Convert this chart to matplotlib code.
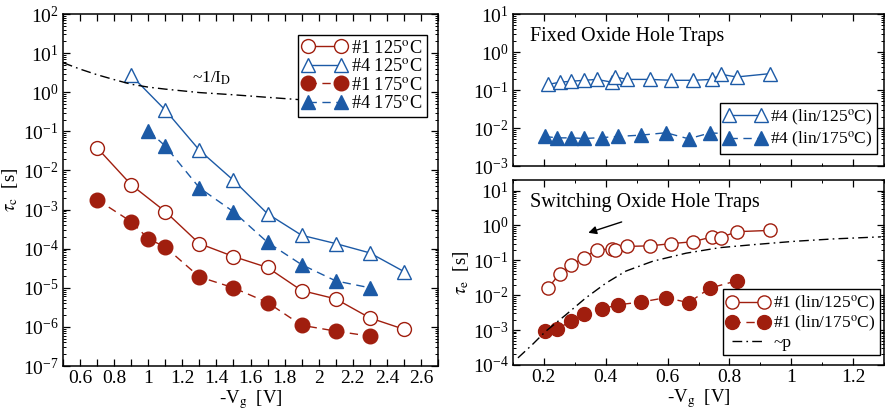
import numpy as np
import matplotlib
matplotlib.use("Agg")
import matplotlib.pyplot as plt
from matplotlib.ticker import MultipleLocator, FuncFormatter, LogLocator

plt.rcParams['font.family'] = ['Liberation Serif', 'DejaVu Serif']
plt.rcParams['mathtext.fontset'] = 'stix'
plt.rcParams['font.size'] = 13

RED = '#a01e0e'
BLUE = '#1c5aa6'

# ---- left panel: capture time vs gate voltage
vg = [0.7, 0.9, 1.1, 1.3, 1.5, 1.7, 1.9, 2.1, 2.3, 2.5]
tau_1_125 = [3.8e-2, 4.3e-3, 8.9e-4, 1.35e-4, 6.3e-5, 3.3e-5, 8.5e-6, 5.2e-6, 1.7e-6, 8.7e-7]

vg_4_125 = [0.9, 1.1, 1.3, 1.5, 1.7, 1.9, 2.1, 2.3, 2.5]
tau_4_125 = [2.7, 0.35, 3.3e-2, 5.6e-3, 7.8e-4, 2.2e-4, 1.35e-4, 7.8e-5, 2.6e-5]

vg_1_175 = [0.7, 0.9, 1.0, 1.1, 1.3, 1.5, 1.7, 1.9, 2.1, 2.3]
tau_1_175 = [1.8e-3, 4.9e-4, 1.8e-4, 1.1e-4, 1.9e-5, 1.0e-5, 4.2e-6, 1.1e-6, 7.8e-7, 5.8e-7]

vg_4_175 = [1.0, 1.1, 1.3, 1.5, 1.7, 1.9, 2.1, 2.3]
tau_4_175 = [0.105, 4.2e-2, 3.6e-3, 8.8e-4, 1.45e-4, 3.9e-5, 1.5e-5, 1.0e-5]

vg_id = [0.5, 0.6, 0.7, 0.8, 0.9, 1.0, 1.1, 1.3, 1.5, 1.7, 1.9]
inv_id = [5.7, 3.9, 2.8, 2.1, 1.6, 1.35, 1.2, 0.98, 0.86, 0.74, 0.64]

# ---- right panels: emission time vs gate voltage
vg_lin = [0.213, 0.251, 0.289, 0.330, 0.371, 0.421, 0.430, 0.470, 0.544, 0.611, 0.681, 0.745, 0.772, 0.823, 0.932]
tau_4_lin125 = [0.14, 0.16, 0.17, 0.18, 0.19, 0.16, 0.22, 0.19, 0.19, 0.18, 0.18, 0.19, 0.26, 0.22, 0.27]
tau_1_lin125 = [0.016, 0.041, 0.073, 0.12, 0.20, 0.21, 0.20, 0.25, 0.26, 0.30, 0.34, 0.47, 0.45, 0.66, 0.72]

vg_lin175 = [0.202, 0.243, 0.289, 0.331, 0.389, 0.440, 0.515, 0.595, 0.668, 0.737, 0.825]
tau_4_lin175 = [6.0e-3, 5.5e-3, 5.5e-3, 5.3e-3, 5.6e-3, 6.0e-3, 6.5e-3, 7.5e-3, 5.2e-3, 7.4e-3, 7.0e-3]
tau_1_lin175 = [9.3e-4, 1.1e-3, 1.8e-3, 2.8e-3, 4.1e-3, 5.3e-3, 6.4e-3, 8.5e-3, 6.1e-3, 0.016, 0.026]

vg_p = [0.116, 0.162, 0.205, 0.270, 0.335, 0.40, 0.465, 0.552, 0.66, 0.768, 0.876, 1.01, 1.136, 1.29]
p_curve = [1.6e-4, 3.8e-4, 9.1e-4, 2.7e-3, 8.3e-3, 0.022, 0.049, 0.094, 0.16, 0.23, 0.28, 0.35, 0.41, 0.47]

DASH = (0, (6, 4))
DASHDOT = (0, (7, 3, 1.2, 3))
deg = r'$^{\rm o}$C'

fig = plt.figure(figsize=(8.86, 4.15), dpi=100)
ax1 = fig.add_axes([63/886, 1-366/415, 375/886, 352/415])
ax2 = fig.add_axes([513/886, 1-166/415, 371/886, 152/415])
ax3 = fig.add_axes([513/886, 1-365/415, 371/886, 185/415])

fmt = FuncFormatter(lambda v, p: '%g' % v)


def style(ax):
    ax.set_yscale('log')
    ax.tick_params(which='both', direction='in', top=True, right=True, labelsize=14, pad=3)
    ax.tick_params(which='major', length=5, width=0.9)
    ax.tick_params(which='minor', length=2.5, width=0.7)
    ax.yaxis.set_major_locator(LogLocator(base=10, numticks=30))
    ax.yaxis.set_minor_locator(LogLocator(base=10, subs=np.arange(2, 10), numticks=30))
    for s in ax.spines.values():
        s.set_linewidth(1.1)


def legend(ax, loc, anchor, fs, spacing):
    leg = ax.legend(loc=loc, bbox_to_anchor=anchor, borderaxespad=0, numpoints=2,
                    handlelength=2.4, handletextpad=0.25, labelspacing=spacing, fancybox=False,
                    framealpha=1, edgecolor='black', fontsize=fs, borderpad=0.25)
    leg.get_frame().set_linewidth(1)


# left
ax = ax1
style(ax)
ax.plot(vg, tau_1_125, '-o', color=RED, mfc='white', mec=RED, ms=10, lw=1, mew=1, label='#1 125' + deg)
ax.plot(vg_4_125, tau_4_125, '-^', color=BLUE, mfc='white', mec=BLUE, ms=10, lw=1, mew=1, label='#4 125' + deg)
ax.plot(vg_1_175, tau_1_175, 'o', ls=DASH, color=RED, ms=10.5, lw=1, label='#1 175' + deg)
ax.plot(vg_4_175, tau_4_175, '^', ls=DASH, color=BLUE, ms=10, lw=1, label='#4 175' + deg)
ax.plot(vg_id, inv_id, color='black', ls=DASHDOT, lw=1)
ax.text(1.255, 2.3, r'~1/I$_{\rm D}$', fontsize=12.5, va='center', ha='left')
ax.set_xlim(0.5, 2.7)
ax.set_ylim(1e-7, 1e2)
ax.xaxis.set_major_locator(MultipleLocator(0.2))
ax.xaxis.set_minor_locator(MultipleLocator(0.1))
ax.xaxis.set_major_formatter(fmt)
ax.tick_params(axis='x', which='minor', length=5, width=0.9)
ax.set_xlabel(r'-V$_{\rm g}$  [V]', fontsize=13.5, labelpad=1)
ax.set_ylabel(r'$\tau_{\rm c}$  [s]', fontsize=13.5, labelpad=2)
legend(ax, 'upper right', (0.971, 0.94), 13.2, 0.08)

# right top: fixed traps
ax = ax2
style(ax)
ax.plot(vg_lin, tau_4_lin125, '-^', color=BLUE, mfc='white', mec=BLUE, ms=9.5, lw=1, mew=1,
        label='#4 (lin/125' + deg + ')')
ax.plot(vg_lin175, tau_4_lin175, '^', ls=DASH, color=BLUE, ms=9.5, lw=1,
        label='#4 (lin/175' + deg + ')')
ax.text(0.046, 0.85, 'Fixed Oxide Hole Traps', transform=ax.transAxes, fontsize=14.5, va='center')
ax.set_ylim(1e-3, 1e1)
legend(ax, 'lower right', (0.981, 0.079), 12.5, 0.12)

# right bottom: switching traps
ax = ax3
style(ax)
ax.plot(vg_lin, tau_1_lin125, '-o', color=RED, mfc='white', mec=RED, ms=9.5, lw=1, mew=1,
        label='#1 (lin/125' + deg + ')')
ax.plot(vg_lin175, tau_1_lin175, 'o', ls=DASH, color=RED, ms=10, lw=1,
        label='#1 (lin/175' + deg + ')')
ax.plot(vg_p, p_curve, color='black', ls=DASHDOT, lw=1, label='~p')
ax.annotate('', xy=(0.335, 0.58), xytext=(0.46, 1.33),
            arrowprops=dict(arrowstyle='-|>', color='black', lw=1, mutation_scale=12))
ax.text(0.046, 0.876, 'Switching Oxide Hole Traps', transform=ax.transAxes, fontsize=14.5, va='center')
ax.set_ylim(1e-4, 20)
ax.set_xlabel(r'-V$_{\rm g}$  [V]', fontsize=13.5, labelpad=1)
ax.set_ylabel(r'$\tau_{\rm e}$  [s]', fontsize=13.5, labelpad=1)
legend(ax, 'lower right', (0.989, 0.054), 12.5, 0.02)

for ax in (ax2, ax3):
    ax.set_xlim(0.1, 1.3)
    ax.xaxis.set_major_locator(MultipleLocator(0.2))
    ax.xaxis.set_minor_locator(MultipleLocator(0.1))
    ax.xaxis.set_major_formatter(fmt)
ax2.tick_params(axis='x', labelbottom=False)

fig.savefig('out.png', dpi=100)
